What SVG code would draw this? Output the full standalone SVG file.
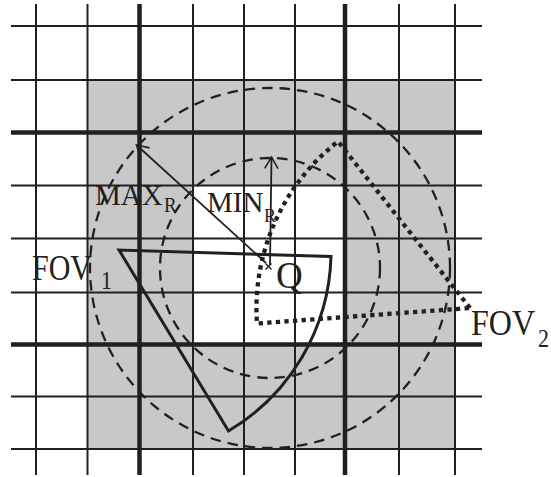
<svg xmlns="http://www.w3.org/2000/svg" width="551" height="477" viewBox="0 0 551 477">
<style>
.g{stroke:#231f20;stroke-width:2;fill:none}
.gt{stroke:#231f20;stroke-width:4.5;fill:none}
.dash{stroke:#231f20;stroke-width:2.3;fill:none;stroke-dasharray:10.5 7}
.fov1{stroke:#231f20;stroke-width:3;fill:none;stroke-linejoin:miter}
.fov2{stroke:#231f20;stroke-width:4.3;fill:none;stroke-dasharray:4.3 4.3}
.arr{stroke:#231f20;stroke-width:1.8;fill:none}
.t{font-family:"Liberation Serif","Times New Roman",serif;fill:#231f20}
</style>
<defs>
<marker id="open" markerWidth="16" markerHeight="16" viewBox="-15 -9 17 18" refX="0" refY="0" orient="auto" markerUnits="userSpaceOnUse">
<path d="M -13 -7.5 L 0 0 L -13 7.5" fill="none" stroke="#231f20" stroke-width="1.8"/>
</marker>
</defs>
<rect id="shade" x="87.5" y="80" width="367.5" height="369" fill="#c8c8ca"/>
<rect id="hole" x="193" y="185.5" width="152" height="159" fill="#ffffff"/>
<g id="grid">
<path class="g" d="M11 26H482M11 80H482M11 185.5H482M11 238.5H482M11 292.5H482M11 396.5H482M11 449H482"/>
<path class="gt" d="M11 132.5H482M11 344.5H482"/>
<path class="g" d="M36 4V475M87.5 4V475M193 4V475M244 4V475M295 4V475M399 4V475M455 4V475"/>
<path class="gt" d="M139.5 4V475M345 4V475"/>
</g>
<g id="range-circles">
<circle id="max-circle" class="dash" cx="270" cy="268" r="180"/>
<circle id="min-circle" class="dash" cx="270" cy="268" r="110"/>
</g>
<g id="fov1">
<path class="fov1" d="M119 250 L228.5 431 A210 210 0 0 0 331 256.5 Z"/>
<text class="t" font-size="30" transform="translate(32 280) scale(1 1.16)">FOV</text>
<text class="t" font-size="22" transform="translate(101 289) scale(1 1.15)">1</text>
</g>
<g id="fov2">
<path class="fov2" d="M470 308 L338 141.5 A212 212 0 0 0 257 323.5 Z"/>
<text class="t" font-size="32" transform="translate(471 335) scale(1 1.1)">FOV</text>
<text class="t" font-size="22" transform="translate(538 347) scale(1 1.15)">2</text>
</g>
<g id="q">
<path d="M265.5 263.5L271.5 269.5M271.5 263.5L265.5 269.5" stroke="#231f20" stroke-width="1.4"/>
<text class="t" font-size="37" transform="translate(276 288) scale(1 1.05)">Q</text>
</g>
<g id="connectors">
<path class="arr" d="M266 263 L136.5 145" marker-end="url(#open)"/>
<path class="arr" d="M270 265 L271.5 157" marker-end="url(#open)"/>
</g>
<g id="labels">
<text class="t" font-size="29" transform="translate(95 205) scale(1 1.05)">MAX</text>
<text class="t" font-size="19" transform="translate(164 212) scale(1 1.05)">R</text>
<text class="t" font-size="29" transform="translate(207 212) scale(1 1.05)">MIN</text>
<text class="t" font-size="18" transform="translate(264 222) scale(1 1.05)">R</text>
</g>
</svg>
